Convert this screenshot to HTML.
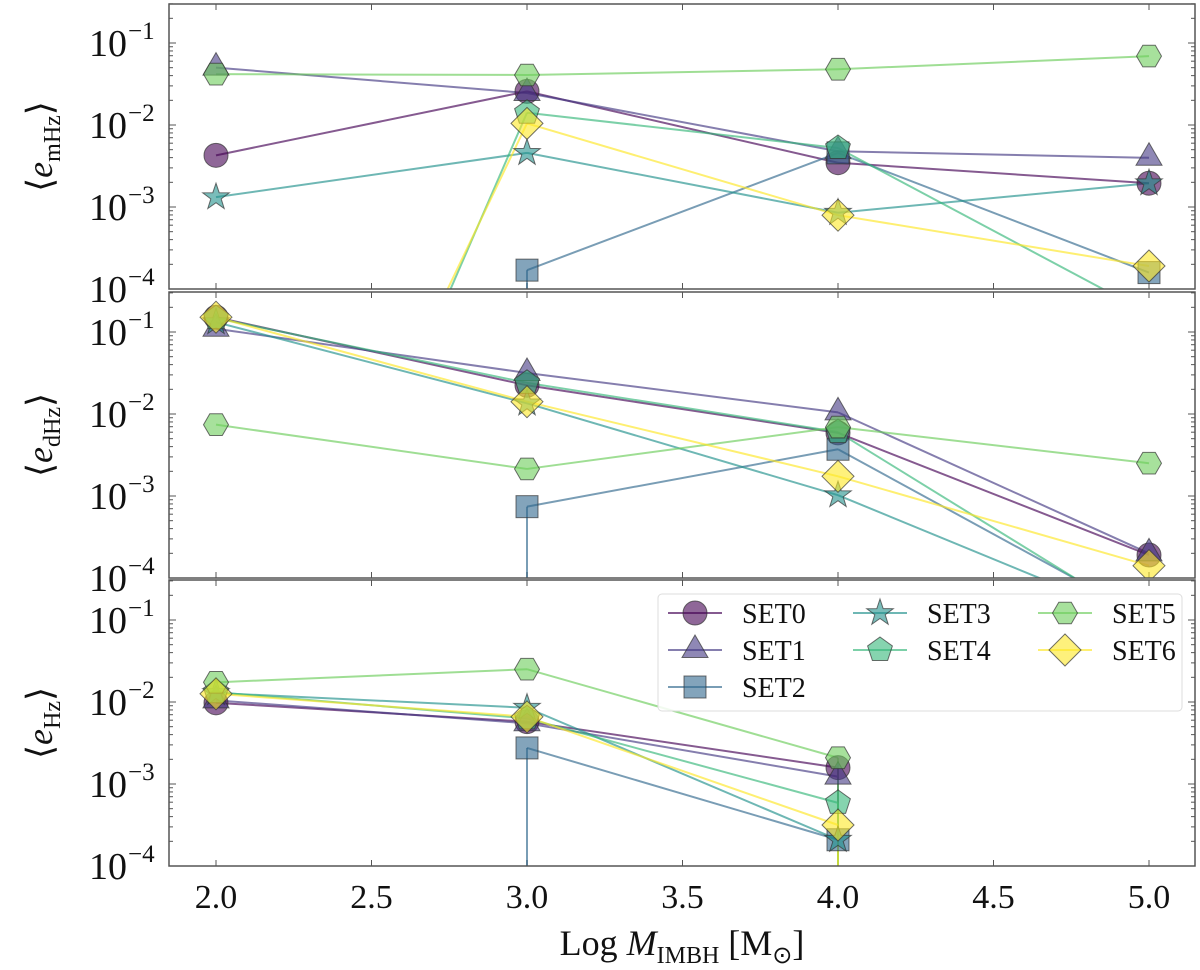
<!DOCTYPE html>
<html><head><meta charset="utf-8"><style>
html,body{margin:0;padding:0;background:#fff;}
svg{display:block;font-family:"Liberation Serif",serif;}
</style></head><body>
<svg id="chart" width="1200" height="970" viewBox="0 0 1200 970" xmlns="http://www.w3.org/2000/svg"></svg>
<script>
// ---- data (log10 values; null = zero / not plotted) ----
const xCats = [2.0, 3.0, 4.0, 5.0];
const xTicks = [2.0, 2.5, 3.0, 3.5, 4.0, 4.5, 5.0];
const xTickLabels = ["2.0","2.5","3.0","3.5","4.0","4.5","5.0"];
const yTicks = [-1, -2, -3, -4];
const seriesNames = ["SET0","SET1","SET2","SET3","SET4","SET5","SET6"];
const panelLabels = ["mHz","dHz","Hz"];
// panel 1: <e_mHz>
const mHz_SET0 = [-2.37, -1.59, -2.46, -2.71];
const mHz_SET1 = [-1.30, -1.61, -2.32, -2.40];
const mHz_SET2 = [null, -3.77, -2.34, -3.80];
const mHz_SET3 = [-2.88, -2.34, -3.07, -2.71];
const mHz_SET4 = [-10.6, -1.85, -2.28, -4.3];
const mHz_SET5 = [-1.38, -1.39, -1.32, -1.16];
const mHz_SET6 = [-9.9, -1.98, -3.10, -3.72];
// panel 2: <e_dHz>
const dHz_SET0 = [-0.82, -1.65, -2.23, -3.72];
const dHz_SET1 = [-0.96, -1.50, -1.98, -3.70];
const dHz_SET2 = [null, -3.13, -2.43, -4.5];
const dHz_SET3 = [-0.88, -1.87, -2.99, -4.55];
const dHz_SET4 = [-0.83, -1.62, -2.22, -4.56];
const dHz_SET5 = [-2.13, -2.67, -2.16, -2.60];
const dHz_SET6 = [-0.82, -1.85, -2.76, -3.85];
// panel 3: <e_Hz>
const Hz_SET0 = [-2.01, -2.24, -2.80, null];
const Hz_SET1 = [-1.98, -2.26, -2.91, null];
const Hz_SET2 = [null, -2.56, -3.68, null];
const Hz_SET3 = [-1.89, -2.07, -3.68, null];
const Hz_SET4 = [-1.88, -2.20, -3.23, null];
const Hz_SET5 = [-1.76, -1.60, -2.68, null];
const Hz_SET6 = [-1.90, -2.18, -3.50, null];

const panelData = [
  [mHz_SET0,mHz_SET1,mHz_SET2,mHz_SET3,mHz_SET4,mHz_SET5,mHz_SET6],
  [dHz_SET0,dHz_SET1,dHz_SET2,dHz_SET3,dHz_SET4,dHz_SET5,dHz_SET6],
  [Hz_SET0,Hz_SET1,Hz_SET2,Hz_SET3,Hz_SET4,Hz_SET5,Hz_SET6]
];
const colors = ["#440154","#443983","#31688e","#21918c","#35b779","#6ccd5a","#fde725"];
const markers = ["circle","triangle","square","star","pentagon","hexagon","diamond"];

const NS = "http://www.w3.org/2000/svg";
const svg = document.getElementById("chart");
const L = 169, R = 1195;
const panels = [{top:4,bot:289},{top:292,bot:578},{top:580,bot:866}];
const yMin = -4, yMax = -0.52, PXD = 82;
function xs(v){ return 216 + (v - 2) * 311; }
function ysFor(p){ return v => p.bot - (v - yMin) * PXD; }

function mk(tag, attrs, parent){
  const e = document.createElementNS(NS, tag);
  for (const k in attrs) e.setAttribute(k, attrs[k]);
  (parent || svg).appendChild(e);
  return e;
}
function markerShape(type, cx, cy, color, parent){
  let e;
  const st = {fill:color, "fill-opacity":0.6, stroke:"#333", "stroke-opacity":0.7, "stroke-width":1};
  const poly = (n, r, rot) => { let pts=[]; for(let i=0;i<n;i++){const a=rot+i*2*Math.PI/n; pts.push((cx+r*Math.cos(a)).toFixed(1)+","+(cy+r*Math.sin(a)).toFixed(1));} return pts.join(" "); };
  if (type==="circle") e = mk("circle", Object.assign({cx, cy, r:12}, st), parent);
  else if (type==="square") e = mk("rect", Object.assign({x:cx-11, y:cy-11, width:22, height:22}, st), parent);
  else if (type==="triangle") e = mk("polygon", Object.assign({points:poly(3,15,-Math.PI/2)}, st), parent);
  else if (type==="pentagon") e = mk("polygon", Object.assign({points:poly(5,13,-Math.PI/2)}, st), parent);
  else if (type==="hexagon") e = mk("polygon", Object.assign({points:poly(6,12.5,0)}, st), parent);
  else if (type==="diamond") e = mk("polygon", Object.assign({points:poly(4,16,0)}, st), parent);
  else if (type==="star") { let pts=[]; for(let i=0;i<10;i++){const a=-Math.PI/2+i*Math.PI/5; const r=i%2?5.5:14; pts.push((cx+r*Math.cos(a)).toFixed(1)+","+(cy+r*Math.sin(a)).toFixed(1));} e = mk("polygon", Object.assign({points:pts.join(" ")}, st), parent); }
  return e;
}

panels.forEach((p, pi) => {
  const ys = ysFor(p);
  const g = mk("g", {});
  
  
  const cid = "clip" + pi;
  const cp = mk("clipPath", {id:cid}, g);
  mk("rect", {x:L, y:p.top, width:R-L, height:p.bot-p.top}, cp);
  xTicks.forEach(t => {
    const x = xs(t);
    mk("line", {x1:x, x2:x, y1:p.top, y2:p.top+6, stroke:"#555", "stroke-width":1}, g);
    mk("line", {x1:x, x2:x, y1:p.bot, y2:p.bot-6, stroke:"#555", "stroke-width":1}, g);
  });
  for (let d = -4; d <= -1; d++) {
    for (let m = 1; m <= 9; m++) {
      const v = d + Math.log10(m);
      if (v > yMax) continue;
      const y = ys(v), len = m === 1 ? 7 : 4;
      mk("line", {x1:L, x2:L+len, y1:y, y2:y, stroke:"#555", "stroke-width":1}, g);
      mk("line", {x1:R, x2:R-len, y1:y, y2:y, stroke:"#555", "stroke-width":1}, g);
    }
  }
  yTicks.forEach(t => {
    const tx = mk("text", {x:127, y:ys(t)+13, "font-size":38, "text-anchor":"end", fill:"#111"}, g);
    
    
    tx.textContent = "10";
    const sup = mk("text", {x:128, y:ys(t)-4, "font-size":25, fill:"#111"}, g);
    sup.textContent = "\u2212" + (-t);
  });
  const sg = mk("g", {"clip-path":"url(#"+cid+")"}, g);
  panelData[pi].forEach((arr, si) => {
    const c = colors[si];
    for (let i = 0; i < arr.length - 1; i++) {
      const a = arr[i], b = arr[i+1];
      let ln;
      if (a !== null && b !== null) ln = mk("line", {x1:xs(xCats[i]), y1:ys(a), x2:xs(xCats[i+1]), y2:ys(b)}, sg);
      else if (a !== null) ln = mk("line", {x1:xs(xCats[i]), y1:ys(a), x2:xs(xCats[i]), y2:p.bot+5}, sg);
      else if (b !== null) ln = mk("line", {x1:xs(xCats[i+1]), y1:ys(b), x2:xs(xCats[i+1]), y2:p.bot+5}, sg);
      if (ln) {
        ln.setAttribute("stroke", c); ln.setAttribute("stroke-opacity", 0.65); ln.setAttribute("stroke-width", 2);
        
        
      }
    }
  });
  panelData[pi].forEach((arr, si) => {
    arr.forEach((v, i) => {
      if (v === null) return;
      const y = ys(v);
      if (y > p.bot + 20 || y < p.top - 20) return;
      const m = markerShape(markers[si], xs(xCats[i]), y, colors[si], sg);
      
      
    });
  });
  const fr = mk("rect", {x:L, y:p.top, width:R-L, height:p.bot-p.top, fill:"none", stroke:"#555", "stroke-width":1.5}, g);
  
  
  const cy = (p.top + p.bot) / 2;
  const yl = mk("text", {x:0, y:0, "font-size":36, "text-anchor":"middle", fill:"#111", transform:"translate(52,"+cy+") rotate(-90)"}, g);
  
  
  yl.innerHTML = '\u27E8<tspan font-style="italic">e</tspan><tspan font-size="24" dy="8">' + panelLabels[pi] + '</tspan><tspan dy="-8">\u27E9</tspan>';
});

xTicks.forEach((t, i) => {
  const tx = mk("text", {x:xs(t), y:908, "font-size":34, "text-anchor":"middle", fill:"#111"});
  
  
  tx.textContent = xTickLabels[i];
});
const xl = mk("text", {x:682, y:955, "font-size":36, "text-anchor":"middle", fill:"#111"});


xl.innerHTML = 'Log <tspan font-style="italic">M</tspan><tspan font-size="24" dy="8">IMBH</tspan><tspan dy="-8"> [M</tspan><tspan font-size="24" dy="8">\u2299</tspan><tspan dy="-8">]</tspan>';

// legend (column-major, 3/2/2 like matplotlib ncol=3)
const lg = mk("g", {});


mk("rect", {x:658, y:594, width:524, height:117, rx:4, fill:"#fff", "fill-opacity":0.85, stroke:"#ddd", "stroke-width":1}, lg);
const colX = [668, 853, 1038];
const rowY = [613, 650, 687];
const legendCol = [0,0,0,1,1,2,2];
const legendRow = [0,1,2,0,1,0,1];
seriesNames.forEach((n, si) => {
  const x0 = colX[legendCol[si]], y0 = rowY[legendRow[si]];
  const e = mk("g", {}, lg);
  
  
  mk("line", {x1:x0, x2:x0+54, y1:y0, y2:y0, stroke:colors[si], "stroke-opacity":0.65, "stroke-width":2}, e);
  markerShape(markers[si], x0+27, y0, colors[si], e);
  const t = mk("text", {x:x0+74, y:y0+10, "font-size":28, fill:"#111"}, e);
  t.textContent = n;
});
</script>
</body></html>
